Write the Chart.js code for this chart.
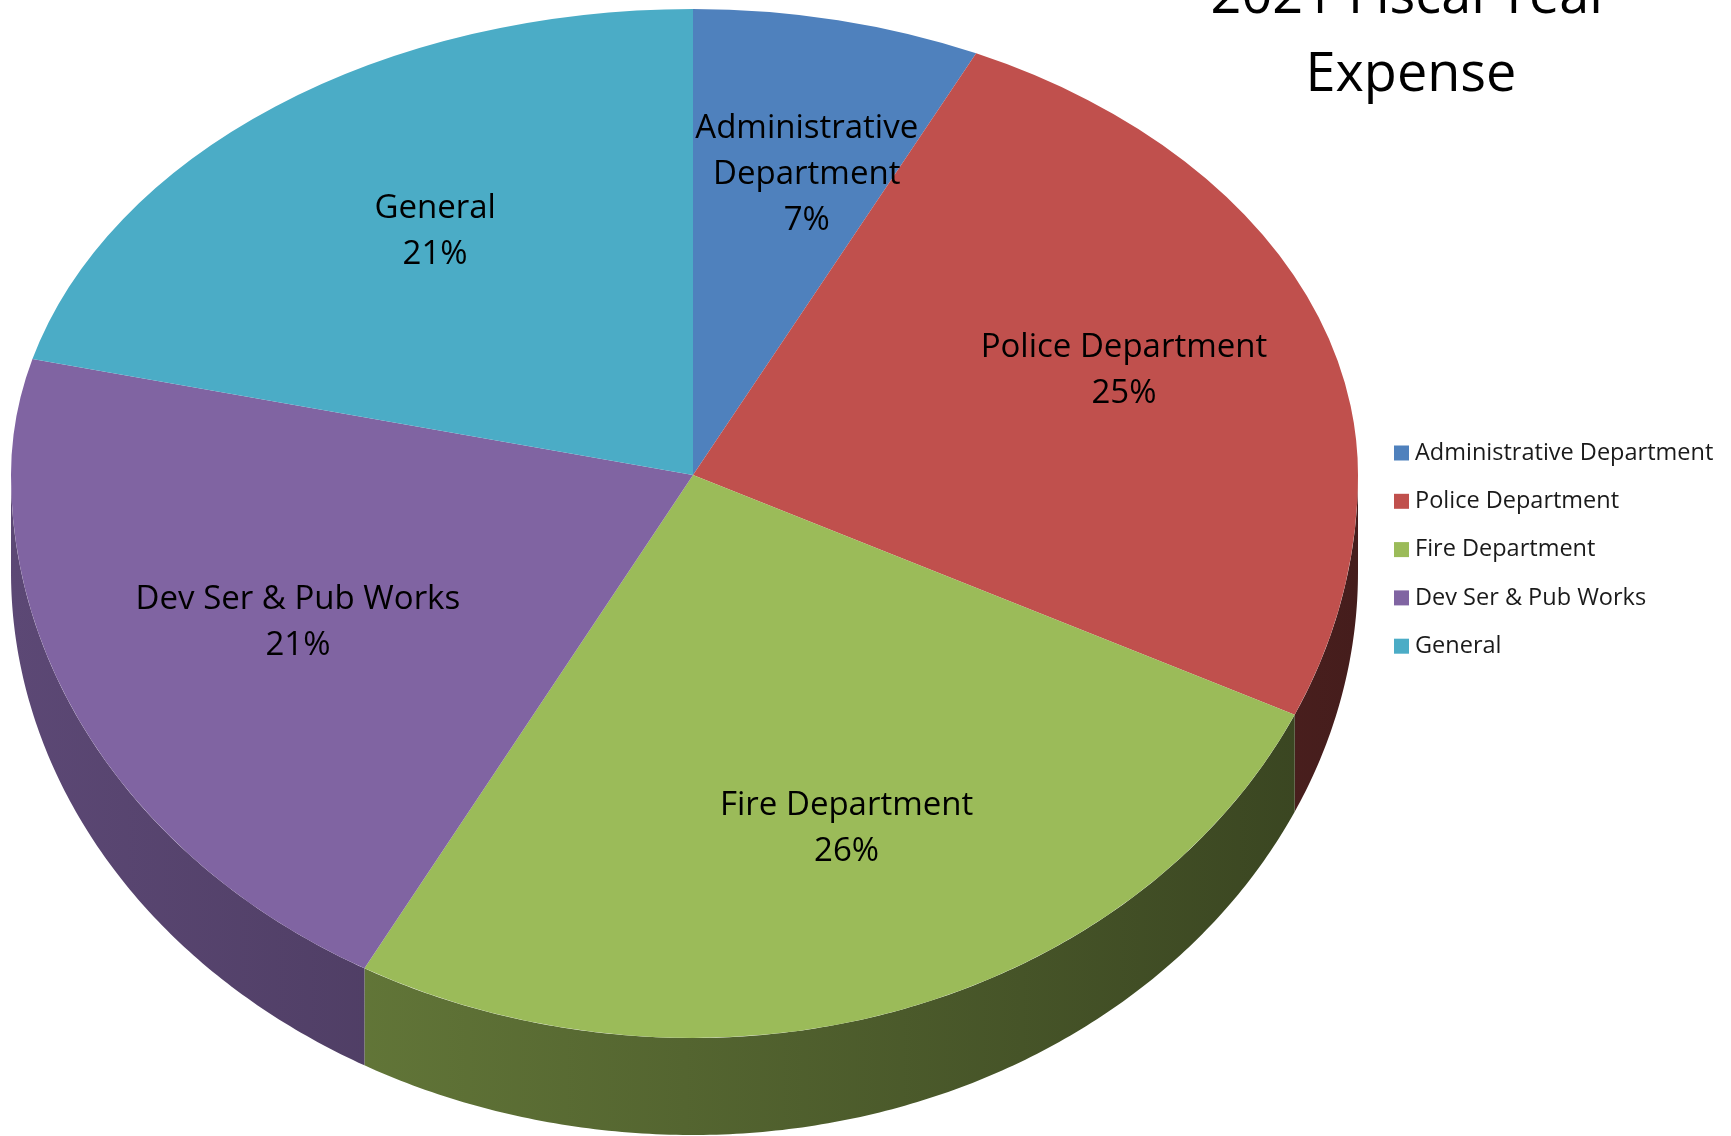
<!DOCTYPE html>
<html>
<head>
<meta charset="utf-8">
<script src="https://cdn.jsdelivr.net/npm/chart.js@4"></script>
<style>
  html, body { margin: 0; padding: 0; background: #fff; }
</style>
</head>
<body>
<canvas id="expense-chart" width="1731" height="1136"></canvas>
<script>
const categories = ["Administrative Department", "Police Department", "Fire Department", "Dev Ser & Pub Works", "General"];
const sliceLabels = [["Administrative", "Department"], ["Police Department"], ["Fire Department"], ["Dev Ser & Pub Works"], ["General"]];
const shares = [7, 25, 26, 21, 21];
const titleLines = ["2021 Fiscal Year", "Expense"];

const colors = ["#4F81BD", "#C0504D", "#9BBB59", "#8064A2", "#4BACC6"];

// tilted pie: the far half looks shorter than the near half, so each quadrant gets its own radii
const pie = { x: 693, y: 475, rxL: 682, rxR: 665, ryT: 466, ryB: 563, depth: 97 };
const labelRadius = 0.66;
const labelShift = { x: 18, y: 0 };
const font = "'Open Sans', 'Noto Sans', sans-serif";

const shade = (hex, f) => {
  const n = parseInt(hex.slice(1), 16);
  const r = Math.round(((n >> 16) & 255) * f);
  const g = Math.round(((n >> 8) & 255) * f);
  const b = Math.round((n & 255) * f);
  return `rgb(${r}, ${g}, ${b})`;
};

// angle on the flat pie -> point on the tilted pie
const px = (a, f = 1) => pie.x + Math.cos(a) * (Math.cos(a) >= 0 ? pie.rxR : pie.rxL) * f;
const py = (a, f = 1) => pie.y + Math.sin(a) * (Math.sin(a) >= 0 ? pie.ryB : pie.ryT) * f;

const pie3d = {
  id: "pie3d",
  beforeDatasetsDraw(chart) {
    const ctx = chart.ctx;
    const arcs = chart.getDatasetMeta(0).data;

    // side walls, only the front half shows
    arcs.forEach((arc, i) => {
      const a1 = Math.max(arc.startAngle, 0);
      const a2 = Math.min(arc.endAngle, Math.PI);
      if (a2 <= a1) return;
      const g = ctx.createLinearGradient(pie.x - pie.rxL, 0, pie.x + pie.rxR, 0);
      g.addColorStop(0, shade(colors[i], 0.72));
      g.addColorStop(1, shade(colors[i], 0.36));
      const steps = Math.max(8, Math.ceil((a2 - a1) / 0.01));
      ctx.beginPath();
      for (let k = 0; k <= steps; k++) {
        const a = a1 + (a2 - a1) * k / steps;
        k === 0 ? ctx.moveTo(px(a), py(a)) : ctx.lineTo(px(a), py(a));
      }
      for (let k = steps; k >= 0; k--) {
        const a = a1 + (a2 - a1) * k / steps;
        ctx.lineTo(px(a), py(a) + pie.depth);
      }
      ctx.closePath();
      ctx.fillStyle = g;
      ctx.fill();
    });

    // top face: the library's arcs, squashed quadrant by quadrant
    const a0 = arcs[0];
    const R = a0.outerRadius;
    const W = chart.width, H = chart.height;
    const quads = [
      [0, 0, pie.x, pie.y, pie.rxL, pie.ryT],
      [pie.x, 0, W, pie.y, pie.rxR, pie.ryT],
      [pie.x, pie.y, W, H, pie.rxR, pie.ryB],
      [0, pie.y, pie.x, H, pie.rxL, pie.ryB],
    ];
    quads.forEach(([x0, y0, x1, y1, rx, ry]) => {
      ctx.save();
      ctx.beginPath();
      ctx.rect(x0, y0, x1 - x0, y1 - y0);
      ctx.clip();
      ctx.translate(pie.x, pie.y);
      ctx.scale(rx / R, ry / R);
      ctx.translate(-a0.x, -a0.y);
      arcs.forEach((arc) => arc.draw(ctx));
      ctx.restore();
    });
    return false;
  },
  afterDraw(chart) {
    const ctx = chart.ctx;
    const arcs = chart.getDatasetMeta(0).data;
    const total = shares.reduce((s, v) => s + v, 0);
    ctx.save();

    // slice labels
    ctx.fillStyle = "#000";
    ctx.font = `33px ${font}`;
    ctx.textAlign = "center";
    ctx.textBaseline = "middle";
    arcs.forEach((arc, i) => {
      const mid = (arc.startAngle + arc.endAngle) / 2;
      const x = px(mid, labelRadius) + labelShift.x;
      const y = py(mid, labelRadius) + labelShift.y;
      const lines = [...sliceLabels[i], Math.round(shares[i] / total * 100) + "%"];
      const lh = 46;
      const top = y - (lines.length - 1) * lh / 2;
      lines.forEach((t, k) => ctx.fillText(t, x, top + k * lh));
    });

    // title, top line runs off the page like the original
    ctx.font = `54px ${font}`;
    ctx.textBaseline = "alphabetic";
    ctx.fillText(titleLines[0], 1411, 13);
    ctx.fillText(titleLines[1], 1411, 91);

    // legend
    ctx.font = `23.5px ${font}`;
    ctx.textAlign = "left";
    ctx.textBaseline = "middle";
    categories.forEach((c, i) => {
      const y = 453 + i * 48.3;
      ctx.fillStyle = colors[i];
      ctx.fillRect(1394, y - 7.5, 15, 15);
      ctx.fillStyle = "#1a1a1a";
      ctx.fillText(c, 1415, y);
    });
    ctx.restore();
  },
};

const ctx = document.querySelector("#expense-chart");
const expenseChart = new Chart(ctx, {
  type: "pie",
  data: {
    labels: categories,
    datasets: [
      {
        label: "2021 Fiscal Year Expense",
        data: shares,
        backgroundColor: colors,
        borderWidth: 0,
      },
    ],
  },
  options: {
    responsive: false,
    animation: false,
    events: [],
    layout: { padding: 0 },
    plugins: {
      legend: { display: false },
      tooltip: { enabled: false },
      title: { display: false },
    },
  },
  plugins: [pie3d],
});
</script>
</body>
</html>
